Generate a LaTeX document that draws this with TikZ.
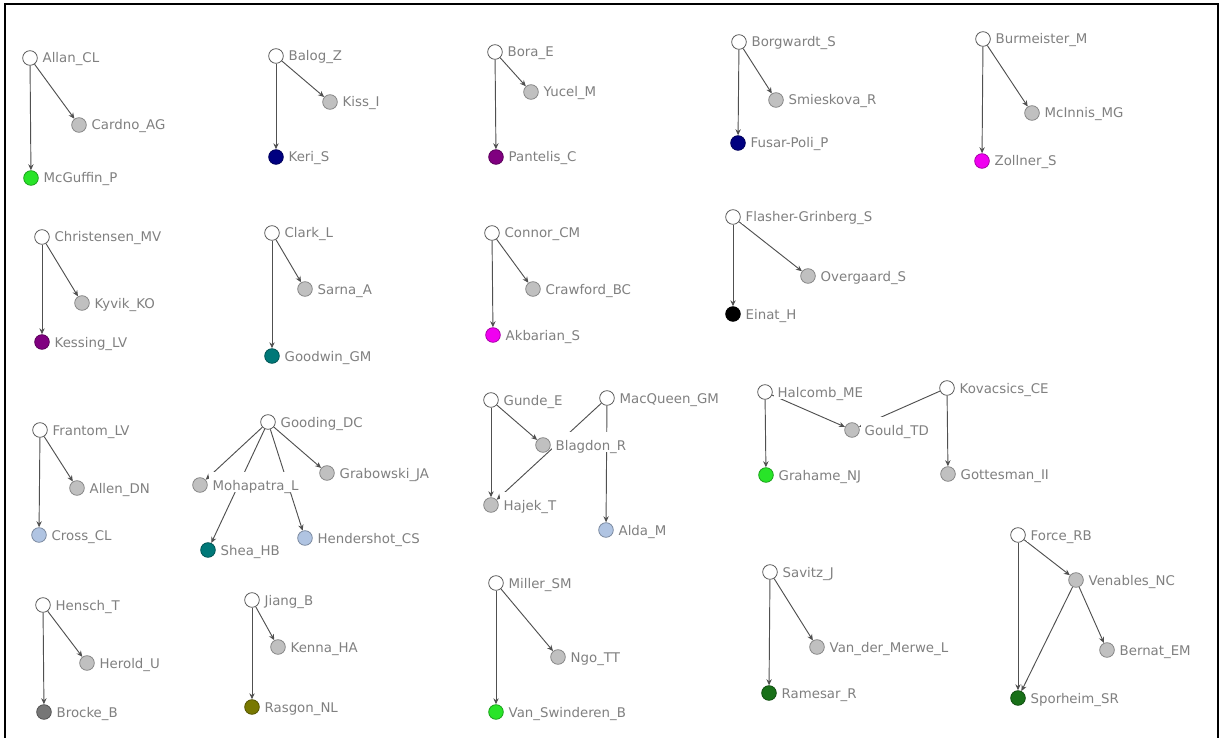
\documentclass[tikz,border=0pt]{standalone}
\usepackage{fontspec}
\setmainfont{DejaVu Sans}
\usetikzlibrary{arrows.meta,backgrounds}

\definecolor{labelgray}{RGB}{128,128,128}
\definecolor{edgegray}{RGB}{80,80,80}
\definecolor{nodegray}{RGB}{192,192,192}
\definecolor{limegreen}{RGB}{40,228,40}
\definecolor{darkgreen}{RGB}{24,112,24}
\definecolor{navyblue}{RGB}{0,0,128}
\definecolor{plum}{RGB}{128,0,128}
\definecolor{fuchsia}{RGB}{240,0,240}
\definecolor{tealc}{RGB}{0,120,120}
\definecolor{paleblue}{RGB}{176,196,226}
\definecolor{slategray}{RGB}{118,118,118}
\definecolor{olivec}{RGB}{120,120,0}

\tikzset{
  pn/.style={circle, minimum size=11pt, inner sep=0pt, line width=0.6pt},
  root/.style={pn, fill=white, draw=black!65},
  leaf/.style={pn, fill=#1, draw=#1!70!black},
  lbl/.style={font=\fontsize{10}{12}\selectfont, text=labelgray, fill=white,
              inner xsep=3pt, inner ysep=1pt, text height=12.5pt, text depth=0.5pt,
              label distance=0.5pt, yshift=2.25pt},
  edge/.style={draw=edgegray, line width=0.7pt, -{Stealth[length=4.5pt,width=4pt]}},
  frame/.style={draw=black, line width=1.5pt}
}

% one author: named circle with its name printed to the right
\newcommand\person[5]{\node[#4, label={[lbl]right:#5}] (#1) at (#2,#3) {};}

\begin{document}
\begin{tikzpicture}[x=0.75pt, y=-0.75pt]
\useasboundingbox (0,0) rectangle (1221,738);
\draw[frame] (5,738) -- (5,4) -- (1218,4) -- (1218,738);

% row 1
\person{allan}{30}{58}{root}{Allan\_CL}
\person{cardno}{79}{125}{leaf=nodegray}{Cardno\_AG}
\person{mcguffin}{31}{178}{leaf=limegreen}{McGuffin\_P}

\person{balog}{276}{56}{root}{Balog\_Z}
\person{kiss}{330}{102}{leaf=nodegray}{Kiss\_I}
\person{keri}{276}{157}{leaf=navyblue}{Keri\_S}

\person{bora}{495}{52}{root}{Bora\_E}
\person{yucel}{531}{92}{leaf=nodegray}{Yucel\_M}
\person{pantelis}{496}{157}{leaf=plum}{Pantelis\_C}

\person{borgwardt}{739}{42}{root}{Borgwardt\_S}
\person{smieskova}{776}{100}{leaf=nodegray}{Smieskova\_R}
\person{fusarpoli}{738}{143}{leaf=navyblue}{Fusar-Poli\_P}

\person{burmeister}{983}{39}{root}{Burmeister\_M}
\person{mcinnis}{1032}{113}{leaf=nodegray}{McInnis\_MG}
\person{zollner}{982}{161}{leaf=fuchsia}{Zollner\_S}

% row 2
\person{christensen}{42}{237}{root}{Christensen\_MV}
\person{kyvik}{82}{303}{leaf=nodegray}{Kyvik\_KO}
\person{kessing}{42}{342}{leaf=plum}{Kessing\_LV}

\person{clark}{272}{233}{root}{Clark\_L}
\person{sarna}{305}{289}{leaf=nodegray}{Sarna\_A}
\person{goodwin}{272}{356}{leaf=tealc}{Goodwin\_GM}

\person{connor}{492}{233}{root}{Connor\_CM}
\person{crawford}{533}{289}{leaf=nodegray}{Crawford\_BC}
\person{akbarian}{493}{335}{leaf=fuchsia}{Akbarian\_S}

\person{flasher}{733}{217}{root}{Flasher-Grinberg\_S}
\person{overgaard}{808}{276}{leaf=nodegray}{Overgaard\_S}
\person{einat}{733}{314}{leaf=black}{Einat\_H}

% row 3
\person{frantom}{40}{430}{root}{Frantom\_LV}
\person{allen}{77}{488}{leaf=nodegray}{Allen\_DN}
\person{cross}{39}{535}{leaf=paleblue}{Cross\_CL}

\person{gooding}{268}{422}{root}{Gooding\_DC}
\person{mohapatra}{200}{485}{leaf=nodegray}{Mohapatra\_L}
\person{grabowski}{327}{473}{leaf=nodegray}{Grabowski\_JA}
\person{shea}{208}{550}{leaf=tealc}{Shea\_HB}
\person{hendershot}{305}{538}{leaf=paleblue}{Hendershot\_CS}

\person{gunde}{491}{400}{root}{Gunde\_E}
\person{blagdon}{543}{445}{leaf=nodegray}{Blagdon\_R}
\person{hajek}{491}{505}{leaf=nodegray}{Hajek\_T}
\person{macqueen}{607}{398}{root}{MacQueen\_GM}
\person{alda}{606}{530}{leaf=paleblue}{Alda\_M}

\person{halcomb}{765}{392}{root}{Halcomb\_ME}
\person{gould}{852}{430}{leaf=nodegray}{Gould\_TD}
\person{grahame}{766}{475}{leaf=limegreen}{Grahame\_NJ}
\person{kovacsics}{947}{388}{root}{Kovacsics\_CE}
\person{gottesman}{948}{474}{leaf=nodegray}{Gottesman\_II}

\person{force}{1018}{535}{root}{Force\_RB}
\person{venables}{1076}{580}{leaf=nodegray}{Venables\_NC}
\person{bernat}{1107}{650}{leaf=nodegray}{Bernat\_EM}
\person{sporheim}{1018}{698}{leaf=darkgreen}{Sporheim\_SR}

% row 4
\person{hensch}{43}{605}{root}{Hensch\_T}
\person{herold}{87}{663}{leaf=nodegray}{Herold\_U}
\person{brocke}{44}{712}{leaf=slategray}{Brocke\_B}

\person{jiang}{252}{600}{root}{Jiang\_B}
\person{kenna}{278}{647}{leaf=nodegray}{Kenna\_HA}
\person{rasgon}{252}{707}{leaf=olivec}{Rasgon\_NL}

\person{miller}{496}{583}{root}{Miller\_SM}
\person{ngo}{558}{657}{leaf=nodegray}{Ngo\_TT}
\person{vanswinderen}{496}{712}{leaf=limegreen}{Van\_Swinderen\_B}

\person{savitz}{770}{572}{root}{Savitz\_J}
\person{vandermerwe}{817}{647}{leaf=nodegray}{Van\_der\_Merwe\_L}
\person{ramesar}{769}{693}{leaf=darkgreen}{Ramesar\_R}

% links sit under the circles and their white name boxes
\begin{scope}[on background layer]
\foreach \a/\b in {allan/cardno, allan/mcguffin, balog/kiss, balog/keri,
  bora/yucel, bora/pantelis, borgwardt/smieskova, borgwardt/fusarpoli,
  burmeister/mcinnis, burmeister/zollner, christensen/kyvik, christensen/kessing,
  clark/sarna, clark/goodwin, connor/crawford, connor/akbarian,
  flasher/overgaard, flasher/einat, frantom/allen, frantom/cross,
  gooding/mohapatra, gooding/grabowski, gooding/shea, gooding/hendershot,
  gunde/blagdon, gunde/hajek, macqueen/hajek, macqueen/alda,
  halcomb/gould, halcomb/grahame, kovacsics/gould, kovacsics/gottesman,
  force/venables, force/sporheim, venables/bernat, venables/sporheim,
  hensch/herold, hensch/brocke, jiang/kenna, jiang/rasgon,
  miller/ngo, miller/vanswinderen, savitz/vandermerwe, savitz/ramesar}
  \draw[edge] (\a) -- (\b);
\end{scope}
\end{tikzpicture}
\end{document}
